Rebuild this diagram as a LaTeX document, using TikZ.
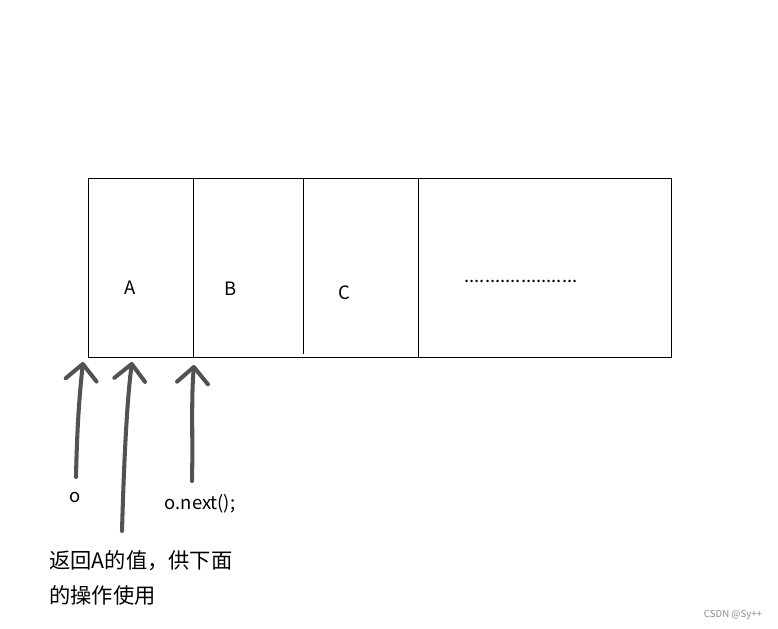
\documentclass[tikz,border=0pt]{standalone}
\usepackage{fontspec}
\newfontfamily\cjk{Noto Sans CJK SC}
\usepackage{tikz}
\usetikzlibrary{arrows.meta,calc,positioning}

\begin{document}
\begin{tikzpicture}[x=0.02cm,y=-0.02cm,
  lbl/.style={font=\cjk\fontsize{10.5}{13}\selectfont,inner sep=0pt},
  hand/.style={draw=black!68,line width=2.3pt,line cap=round,
               -{Straight Barb[length=0.32cm,width=0.62cm,round]}}]
  \useasboundingbox (0,0) rectangle (778,629);
  % the array
  \draw[thin] (88,178) rectangle (671,357);
  \foreach \x/\yb in {193/357,303/354,418/357}
    \draw[thin] (\x,178) -- (\x,\yb);
  \node[lbl] (cA) at (130,288) {A};
  \node[lbl] (cB) at (231,289) {B};
  \node[lbl] (cC) at (344,293) {C};
  \node[lbl] (rest) at (521,281) {......................};
  % pointer ends
  \coordinate (h1) at (83,362);
  \coordinate (h2) at (132,362);
  \coordinate (h3) at (194,365);
  \coordinate (t1) at (76,477);
  \coordinate (t2) at (122,531);
  \coordinate (t3) at (192,481);
  \draw[hand] (t1) .. controls (77,430) and (79,400) .. (h1);
  \draw[hand] (t2) .. controls (124,460) and (127,400) .. (h2);
  \draw[hand] (t3) .. controls (193,440) and (191,400) .. (h3);
  % labels
  \node[lbl] (o) at (75,497) {o};
  \node[lbl] (onext) at (200,504) {o.next();};
  \node[lbl,align=left,anchor=west,font=\cjk\fontsize{12.1}{19.8}\selectfont]
    (note) at (49,578) {返回A的值，供下面\\的操作使用};
  \node[font=\cjk\fontsize{5.5}{6}\selectfont,text=black!45,inner sep=0pt]
    (mark) at (733,615) {CSDN @Sy++};
\end{tikzpicture}
\end{document}
